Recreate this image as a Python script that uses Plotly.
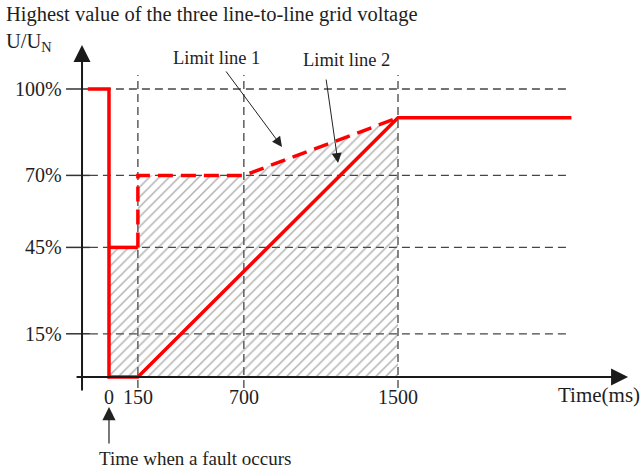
import plotly.graph_objects as go

# ---- data (time in ms, voltage in % of U_N) ----
limit2_time = [-110, 0, 0, 150, 1500, 2400]
limit2_volt = [100, 100, 0, 0, 90, 90]
step45_time = [0, 150]
step45_volt = [45, 45]
limit1_time = [150, 150, 700, 1500]
limit1_volt = [45, 70, 70, 90]
hatch_time = [0, 0, 150, 150, 700, 1500, 1500, 0]
hatch_volt = [0, 45, 45, 70, 70, 90, 0, 0]
x_tick_vals = [0, 150, 700, 1500]
x_tick_text = ["0", "150", "700", "1500"]
y_tick_vals = [15, 45, 70, 100]
y_tick_text = ["15%", "45%", "70%", "100%"]

FONT = "Liberation Serif, Times New Roman, serif"
RED = "#ff0000"
GRID = "#454545"
TXT = "#1e1e1e"

X_RANGE = [-565.7, 2776.8]
Y_RANGE = [-34.03, 130.9]

fig = go.Figure()

# hatched region
fig.add_trace(go.Scatter(
    x=hatch_time, y=hatch_volt, mode="lines", fill="toself",
    line=dict(width=0, color="rgba(0,0,0,0)"),
    fillcolor="rgba(0,0,0,0)",
    fillpattern=dict(shape="/", size=7, solidity=0.22, fgcolor="#666666",
                     bgcolor="rgba(0,0,0,0)"),
    hoverinfo="skip", showlegend=False))

# limit line 1 (dashed)
fig.add_trace(go.Scatter(
    x=limit1_time, y=limit1_volt, mode="lines",
    line=dict(color=RED, width=3.5, dash="15px,8px"),
    showlegend=False))
# 45% step
fig.add_trace(go.Scatter(
    x=step45_time, y=step45_volt, mode="lines",
    line=dict(color=RED, width=3.5), showlegend=False))
# limit line 2 (solid)
fig.add_trace(go.Scatter(
    x=limit2_time, y=limit2_volt, mode="lines",
    line=dict(color=RED, width=3.5), showlegend=False))

shapes = []
# horizontal dashed grid + solid tick marks
for v in y_tick_vals:
    shapes.append(dict(type="line", xref="x", yref="y", x0=-99, x1=2382, y0=v, y1=v,
                       line=dict(color=GRID, width=1.3, dash="8px,5px"), layer="below"))
    shapes.append(dict(type="line", xref="x", yref="y", x0=-223, x1=-99, y0=v, y1=v,
                       line=dict(color="#333333", width=1.5), layer="below"))
# vertical dashed grid
for t in x_tick_vals[1:]:
    shapes.append(dict(type="line", xref="x", yref="y", x0=t, x1=t, y0=-3.8, y1=104.9,
                       line=dict(color=GRID, width=1.3, dash="8px,5px"), layer="below"))
fig.update_layout(shapes=shapes)

ann = []
# axes with arrows
ann.append(dict(x=-140, y=115.3, ax=-140, ay=-5.2, xref="x", yref="y", axref="x", ayref="y",
                text="", showarrow=True, arrowhead=2, arrowsize=1.7, arrowwidth=2, arrowcolor="#1a1a1a"))
ann.append(dict(x=2694, y=0, ax=-176, ay=0, xref="x", yref="y", axref="x", ayref="y",
                text="", showarrow=True, arrowhead=2, arrowsize=1.7, arrowwidth=2, arrowcolor="#1a1a1a"))
# tick labels
for v, s in zip(y_tick_vals, y_tick_text):
    ann.append(dict(x=-232, y=v, xref="x", yref="y", text=s, showarrow=False,
                    xanchor="right", yanchor="middle", font=dict(family=FONT, size=20, color=TXT)))
for t, s in zip(x_tick_vals, x_tick_text):
    ann.append(dict(x=t, y=-7, xref="x", yref="y", text=s, showarrow=False,
                    xanchor="center", yanchor="middle", font=dict(family=FONT, size=20, color=TXT)))
# axis titles
ann.append(dict(x=2766, y=-6.3, xref="x", yref="y", text="Time(ms)", showarrow=False,
                xanchor="right", yanchor="middle", font=dict(family=FONT, size=21, color=TXT)))
ann.append(dict(x=4/644, y=1-15/475, xref="paper", yref="paper",
                text="Highest value of the three line-to-line grid voltage", showarrow=False,
                xanchor="left", yanchor="middle", font=dict(family=FONT, size=20.5, color=TXT)))
ann.append(dict(x=4/644, y=1-42/475, xref="paper", yref="paper",
                text="U/U<sub>N</sub>", showarrow=False,
                xanchor="left", yanchor="middle", font=dict(family=FONT, size=20.5, color=TXT)))
# limit line labels and pointers
ann.append(dict(x=560, y=110.8, xref="x", yref="y", text="Limit line 1", showarrow=False,
                xanchor="center", yanchor="middle", font=dict(family=FONT, size=18.5, color=TXT)))
ann.append(dict(x=1235, y=110.1, xref="x", yref="y", text="Limit line 2", showarrow=False,
                xanchor="center", yanchor="middle", font=dict(family=FONT, size=18.5, color=TXT)))
ann.append(dict(x=898, y=79.9, ax=602, ay=106.6, xref="x", yref="y", axref="x", ayref="y",
                text="", showarrow=True, arrowhead=2, arrowsize=2, arrowwidth=1, arrowcolor="#222"))
ann.append(dict(x=1189, y=74.3, ax=1126, ay=103.8, xref="x", yref="y", axref="x", ayref="y",
                text="", showarrow=True, arrowhead=2, arrowsize=2, arrowwidth=1, arrowcolor="#222"))
# fault time pointer
ann.append(dict(x=0, y=-10.4, ax=0, ay=-23.6, xref="x", yref="y", axref="x", ayref="y",
                text="", showarrow=True, arrowhead=2, arrowsize=2.2, arrowwidth=1.2, arrowcolor="#222"))
ann.append(dict(x=-60, y=-28.2, xref="x", yref="y", text="Time when a fault occurs", showarrow=False,
                xanchor="left", yanchor="middle", font=dict(family=FONT, size=19, color=TXT)))
fig.update_layout(annotations=ann)

fig.update_layout(
    width=644, height=475,
    margin=dict(l=0, r=0, t=0, b=0),
    paper_bgcolor="white", plot_bgcolor="white",
    xaxis=dict(range=X_RANGE, visible=False, fixedrange=True),
    yaxis=dict(range=Y_RANGE, visible=False, fixedrange=True),
    showlegend=False,
)

fig.write_html("out.html")
